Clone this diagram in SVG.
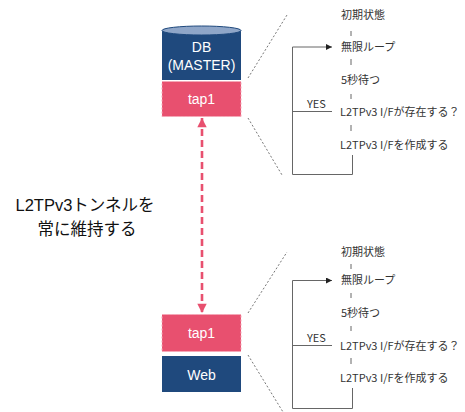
<svg xmlns="http://www.w3.org/2000/svg" width="465" height="412" viewBox="0 0 465 412">
<defs>
<style>
.navy{fill:#1F497D}
.tap{fill:#E8506F;stroke:#F6A8B8;stroke-width:1;stroke-dasharray:2 2}
.wt{fill:#fff;font-family:"Liberation Sans","Noto Sans CJK JP",sans-serif;font-size:14px;text-anchor:middle}
.ft{fill:#333;font-family:"Noto Sans CJK JP","Liberation Sans",sans-serif;font-size:11px}
.ln{stroke:#666;stroke-width:1;fill:none}
.dot{stroke:#777;stroke-width:1;stroke-dasharray:2 2;fill:none}
</style>
<marker id="ah" viewBox="0 0 10 10" refX="10" refY="5" markerWidth="6" markerHeight="6" orient="auto"><path d="M0,0 L10,5 L0,10 z" fill="#222"/></marker>
<marker id="pk" viewBox="0 0 10 10" refX="10" refY="5" markerWidth="3.8" markerHeight="3.6" orient="auto-start-reverse"><path d="M0,0 L10,5 L0,10 z" fill="#E8506F"/></marker>
</defs>
<rect width="465" height="412" fill="#fff"/>

<g id="db">
<path class="navy" d="M162,30.5 L162,80 L241,80 L241,30.5 Z"/>
<ellipse cx="201.5" cy="30.5" rx="39.5" ry="4.5" fill="#8FA6C8" stroke="#1F497D" stroke-width="1"/>
<text class="wt" x="201.5" y="52">DB</text>
<text class="wt" x="201.5" y="70">(MASTER)</text>
</g>
<g id="tap1-top">
<rect class="tap" x="162" y="81.5" width="79" height="35"/>
<text class="wt" x="201.5" y="104">tap1</text>
</g>
<g id="tap1-bottom">
<rect class="tap" x="162" y="314.5" width="79" height="37"/>
<text class="wt" x="201.5" y="338">tap1</text>
</g>
<g id="web">
<rect class="navy" x="162" y="356" width="79" height="36"/>
<text class="wt" x="201.5" y="380">Web</text>
</g>
<g id="label">
<text x="85" y="211" font-family="Liberation Sans,'Noto Sans CJK JP',sans-serif" font-size="16.5" fill="#111" text-anchor="middle">L2TPv3トンネルを</text>
<text x="87" y="235" font-family="Liberation Sans,'Noto Sans CJK JP',sans-serif" font-size="16.5" fill="#111" text-anchor="middle">常に維持する</text>
</g>

<g id="connectors">
<line x1="202" y1="118" x2="202" y2="313" stroke="#E8506F" stroke-width="2.6" stroke-dasharray="7 4" marker-start="url(#pk)" marker-end="url(#pk)"/>
<line class="dot" x1="248" y1="78" x2="287" y2="15"/>
<line class="dot" x1="248" y1="118" x2="282" y2="175"/>
<line class="dot" x1="248" y1="313" x2="287" y2="252"/>
<line class="dot" x1="248" y1="355" x2="283" y2="412"/>
</g>

<g id="flow-top">
<text class="ft" x="341" y="19">初期状態</text>
<text class="ft" x="341" y="51">無限ループ</text>
<text class="ft" x="341" y="84">5秒待つ</text>
<text class="ft" x="340" y="116">L2TPv3 I/Fが存在する？</text>
<text class="ft" x="340" y="149">L2TPv3 I/Fを作成する</text>
<text class="ft" x="307" y="108" font-size="10">YES</text>
<path class="ln" d="M351,31 V36 M351,59 V65 M351,94 V99 M351,125 V131"/>
<path class="ln" d="M352.5,155 V174.5 H292.5 V47 H332" marker-end="url(#ah)"/>
<line class="ln" x1="292.5" y1="111.5" x2="332" y2="111.5"/>
</g>
<g id="flow-bottom">
<text class="ft" x="341" y="256">初期状態</text>
<text class="ft" x="341" y="284">無限ループ</text>
<text class="ft" x="341" y="317">5秒待つ</text>
<text class="ft" x="340" y="350">L2TPv3 I/Fが存在する？</text>
<text class="ft" x="340" y="382">L2TPv3 I/Fを作成する</text>
<text class="ft" x="307" y="342" font-size="10">YES</text>
<path class="ln" d="M351,264 V269 M351,293 V298 M351,326 V331 M351,358 V364"/>
<path class="ln" d="M352.5,388 V408.5 H292.5 V280.5 H332" marker-end="url(#ah)"/>
<line class="ln" x1="292.5" y1="345.5" x2="332" y2="345.5"/>
</g>
</svg>
